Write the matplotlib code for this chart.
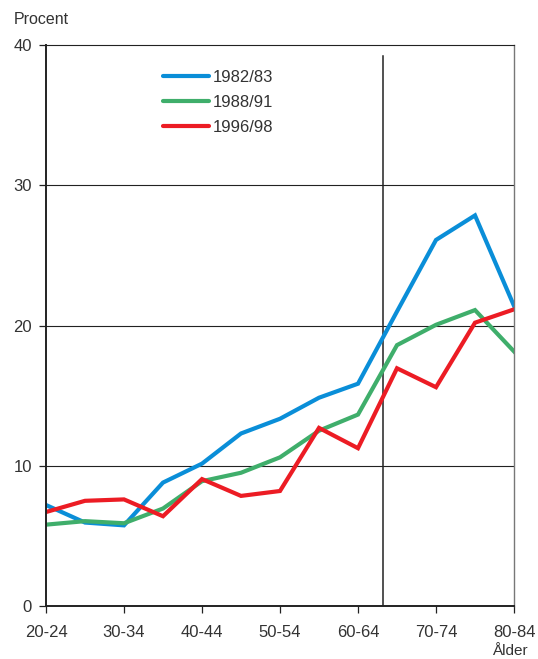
import matplotlib
matplotlib.use("Agg")
import matplotlib.pyplot as plt

plt.rcParams['font.family'] = ['Liberation Sans', 'DejaVu Sans']

# age groups 20-24 ... 80-84
age_groups = ['20-24', '25-29', '30-34', '35-39', '40-44', '45-49', '50-54',
              '55-59', '60-64', '65-69', '70-74', '75-79', '80-84']
tick_labels = ['20-24', '30-34', '40-44', '50-54', '60-64', '70-74', '80-84']

s1982 = [7.2, 5.95, 5.75, 8.8, 10.15, 12.3, 13.35, 14.85, 15.85, 21.0, 26.1, 27.85, 21.4]
s1988 = [5.8, 6.05, 5.9, 6.95, 8.9, 9.5, 10.6, 12.5, 13.65, 18.6, 20.05, 21.1, 18.15]
s1996 = [6.7, 7.5, 7.6, 6.4, 9.05, 7.85, 8.2, 12.7, 11.25, 16.95, 15.6, 20.2, 21.15]
series_names = ['1982/83', '1988/91', '1996/98']
colors = ['#0a8ed8', '#3fae6b', '#ec1c24']

fig = plt.figure(figsize=(5.38, 6.59), dpi=100)
ax = fig.add_axes([46 / 538, 1 - 606 / 659, 468 / 538, 561 / 659])

x = list(range(len(age_groups)))
for vals, name, c in zip([s1982, s1988, s1996], series_names, colors):
    ax.plot(x, vals, color=c, lw=3.0, label=name, solid_joinstyle='miter')

ax.set_xlim(0, len(age_groups) - 1)
ax.set_ylim(0, 40)

# horizontal grid
for yv in [10, 20, 30]:
    ax.axhline(yv, color='#222222', lw=0.8, zorder=0)

# separator between 60-64 and 65-69
ax.plot([8.65, 8.65], [0, 39.25], color='#222222', lw=1.1, zorder=1)

ax.set_xticks([age_groups.index(t) for t in tick_labels])
ax.set_xticklabels(tick_labels)
ax.set_yticks([0, 10, 20, 30, 40])
ax.tick_params(axis='x', direction='out', length=5, width=0.9, colors='#222222',
               labelsize=12, labelcolor='#333333', pad=9)
ax.tick_params(axis='y', direction='out', length=5, width=0.9, colors='#222222',
               labelsize=12, labelcolor='#333333', pad=5)

for side in ['left', 'bottom']:
    ax.spines[side].set_color('#222222')
    ax.spines[side].set_linewidth(1.4)
ax.spines['top'].set_color('#222222')
ax.spines['top'].set_linewidth(0.8)
ax.spines['right'].set_color('#777777')
ax.spines['right'].set_linewidth(1.0)

leg = ax.legend(loc='upper left', bbox_to_anchor=(0.235, 0.968), frameon=False,
                fontsize=12, handlelength=2.8, handletextpad=0.2,
                labelspacing=0.6, borderaxespad=0)
for t in leg.get_texts():
    t.set_color('#333333')
for h in leg.get_lines():
    h.set_linewidth(3.0)
    h.set_solid_capstyle('round')

fig.text(14 / 538, 1 - 12 / 659, 'Procent', fontsize=11.5, color='#333333',
         ha='left', va='top')
fig.text(492 / 538, 1 - 644 / 659, 'Ålder', fontsize=11, color='#333333',
         ha='left', va='top')

fig.savefig('out.png', dpi=100)
